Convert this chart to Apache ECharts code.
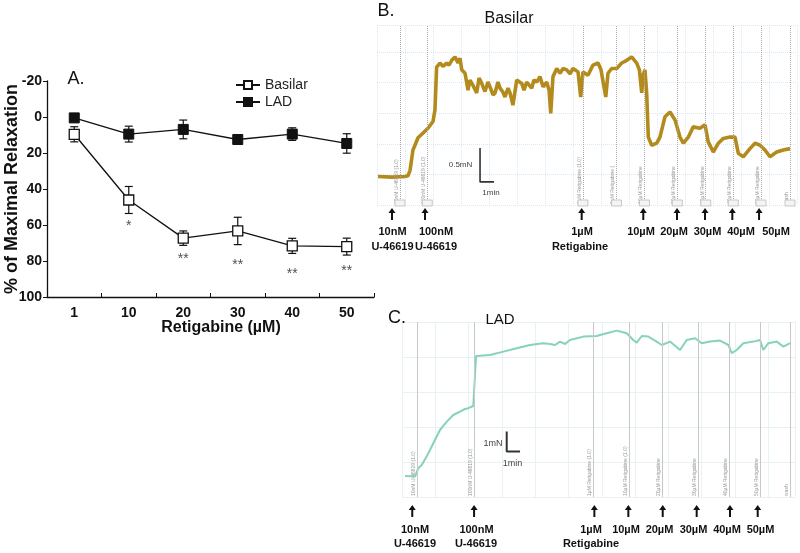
<!DOCTYPE html>
<html><head><meta charset="utf-8">
<script src="https://cdn.jsdelivr.net/npm/echarts@6/dist/echarts.min.js"></script>
<style>html,body{margin:0;padding:0;background:#fff}#c{width:800px;height:553px}</style>
</head><body><div id="c"></div>
<script>
// ---------- Panel A data ----------
const doses = ['1', '10', '20', '30', '40', '50'];
const basilarMean = [9.6, 46.1, 67.3, 63.3, 71.6, 72.0];
const basilarErr = [4.2, 7.5, 4.0, 7.6, 4.2, 4.7];
const ladMean = [0.5, 9.5, 6.9, 12.5, 9.5, 14.7];
const ladErr = [1.0, 4.4, 5.2, 2.7, 3.5, 5.4];
const starText = ['', '*', '**', '**', '**', '**'];
const starValue = [null, 59, 77.5, 80.8, 85.4, 83.9];

// ---------- Panel B data (time in min, force in mN) ----------
const basilarTrace = [
[0.07,0.42],[1.07,0.41],[2.0,0.42],[2.21,0.43],[2.36,0.51],[2.57,0.81],[2.93,0.99],[3.29,1.06],[3.64,1.13],[4.0,1.23],[4.14,1.40],[4.26,2.03],[4.5,2.09],[4.71,2.04],[4.98,2.09],[5.14,2.06],[5.34,2.13],[5.57,2.18],[5.79,2.09],[5.93,2.16],[6.05,1.99],[6.29,1.94],[6.5,1.69],[6.64,1.84],[6.86,1.76],[7.12,1.65],[7.29,1.87],[7.48,1.79],[7.71,1.67],[7.93,1.81],[8.07,1.74],[8.29,1.62],[8.43,1.65],[8.64,1.81],[8.79,1.72],[9.0,1.66],[9.14,1.59],[9.36,1.72],[9.5,1.65],[9.71,1.47],[9.98,1.84],[10.34,1.79],[10.5,1.69],[10.69,1.81],[11.05,1.72],[11.21,1.84],[11.41,1.81],[11.64,1.89],[11.86,1.74],[12.12,1.81],[12.29,1.69],[12.41,1.35],[12.57,1.89],[12.84,2.01],[13.07,1.94],[13.29,2.01],[13.55,1.99],[13.79,1.93],[14.0,2.01],[14.36,1.96],[14.55,1.59],[14.71,1.96],[15.07,1.91],[15.43,2.06],[15.79,2.09],[16.0,1.99],[16.14,2.01],[16.34,1.59],[16.5,1.94],[16.76,2.01],[17.12,2.01],[17.48,2.09],[17.84,2.13],[18.19,2.18],[18.55,2.09],[18.74,1.99],[18.91,1.65],[19.0,1.91],[19.14,1.99],[19.26,1.65],[19.38,1.0],[19.62,0.88],[19.98,0.91],[20.21,1.0],[20.57,1.30],[20.93,1.37],[21.29,1.25],[21.64,1.0],[21.88,0.91],[22.24,1.0],[22.59,1.15],[23.07,1.13],[23.43,1.18],[23.66,0.93],[24.02,0.78],[24.38,0.91],[24.74,0.98],[25.21,1.0],[25.57,1.0],[25.81,0.76],[26.16,0.71],[26.64,0.83],[27.0,0.91],[27.36,0.88],[27.71,0.81],[28.07,0.71],[28.55,0.78],[29.02,0.81],[29.5,0.83]
];
const basilarEvents = [1.64, 3.59, 14.71, 17.11, 19.11, 21.45, 23.48, 25.45, 27.43, 29.5];
const basilarEventText = ['10nM U-46619 (1.0)', '100nM U-46619 (1.0)', '1µM Retigabine (1.0)', '5µM Retigabine (', '10µM Retigabine', '20µM Retigabine', '30µM Retigabine', '40µM Retigabine', '50µM Retigabine', 'wash'];
const basilarArrows = [1.07, 3.43, 14.62, 19.02, 21.43, 23.43, 25.38, 27.29];
const basilarScale = [[7.36, 0.84], [7.36, 0.34], [8.36, 0.34]];

// ---------- Panel C data ----------
const ladTrace = [
[0.23,1.05],[0.98,1.02],[1.22,1.44],[1.48,1.6],[1.85,2.02],[2.35,2.69],[2.85,3.35],[3.36,3.77],[3.85,4.1],[4.35,4.27],[4.73,4.4],[4.98,4.44],[5.11,4.35],[5.35,4.55],[5.48,4.6],[5.56,7.05],[6.61,7.1],[7.61,7.27],[8.61,7.44],[9.61,7.6],[10.61,7.69],[11.11,7.65],[11.49,7.6],[11.86,7.77],[12.24,7.65],[12.61,7.85],[13.61,8.02],[14.62,8.05],[14.86,8.1],[15.37,8.19],[16.12,8.32],[16.87,8.19],[17.36,7.85],[17.62,7.72],[18.0,8.05],[18.49,8.02],[18.99,7.82],[19.5,7.6],[20.12,7.77],[20.87,7.35],[21.37,7.85],[22.0,7.94],[22.5,7.69],[23.12,7.77],[23.87,7.82],[24.5,7.6],[24.75,7.19],[25.13,7.35],[25.62,7.69],[26.37,7.77],[26.88,7.85],[27.12,7.35],[27.5,7.69],[28.13,7.77],[28.63,7.52],[29.13,7.69]
];
const ladEvents = [1.13, 5.44, 14.38, 17.04, 19.52, 22.22, 24.59, 26.91, 29.13];
const ladEventText = ['10nM U-46619 (1.0)', '100nM U-46619 (1.0)', '1µM Retigabine (1.0)', '10µM Retigabine (1.0)', '20µM Retigabine', '30µM Retigabine', '40µM Retigabine', '50µM Retigabine', 'wash'];
const ladArrows = [0.77, 5.41, 14.44, 16.99, 19.57, 22.12, 24.62, 26.7];
const ladScale = [[7.86, 3.27], [7.86, 2.27], [8.86, 2.27]];

// ---------- Labels ----------
const bLabels = [['10nM', 'U-46619'], ['100nM', 'U-46619'], ['1µM', 'Retigabine'], ['10µM'], ['20µM'], ['30µM'], ['40µM'], ['50µM']];
const cLabels = [['10nM', 'U-46619'], ['100nM', 'U-46619'], ['1µM', 'Retigabine'], ['10µM'], ['20µM'], ['30µM'], ['40µM'], ['50µM']];

const FONT = '"Liberation Sans", Arial, Helvetica, sans-serif';
const chart = echarts.init(document.getElementById('c'), null, {renderer: 'canvas'});

function errorSeries(mean, err) {
  return {
    type: 'custom', xAxisIndex: 0, yAxisIndex: 0, z: 1, silent: true,
    data: mean.map((m, i) => [i, m - err[i], m + err[i]]),
    renderItem: function (params, api) {
      const lo = api.coord([api.value(0), api.value(1)]);
      const hi = api.coord([api.value(0), api.value(2)]);
      const hw = 4;
      const st = {stroke: '#111', lineWidth: 1.2};
      return {type: 'group', children: [
        {type: 'line', shape: {x1: lo[0], y1: lo[1], x2: hi[0], y2: hi[1]}, style: st},
        {type: 'line', shape: {x1: lo[0] - hw, y1: lo[1], x2: lo[0] + hw, y2: lo[1]}, style: st},
        {type: 'line', shape: {x1: hi[0] - hw, y1: hi[1], x2: hi[0] + hw, y2: hi[1]}, style: st}
      ]};
    }
  };
}

function eventMarkLine(events, texts, lineStyle) {
  return {
    silent: true, symbol: 'none', animation: false,
    lineStyle: lineStyle,
    label: {show: true, position: 'insideStartTop', fontSize: 5, color: '#999', fontFamily: FONT, distance: 1},
    data: events.map((t, i) => ({xAxis: t, label: {formatter: texts[i]}}))
  };
}

const option = {
  animation: false,
  backgroundColor: '#fff',
  textStyle: {fontFamily: FONT},
  grid: [
    {left: 47, top: 81, width: 327, height: 216},
    {left: 377, top: 25, width: 420, height: 180},
    {left: 402, top: 322, width: 393, height: 175}
  ],
  legend: {
    data: ['Basilar', 'LAD'], orient: 'vertical', left: 230, top: 73,
    itemWidth: 24, itemHeight: 10, itemGap: 3,
    textStyle: {fontSize: 14, color: '#222', fontFamily: FONT}
  },
  xAxis: [
    {
      gridIndex: 0, type: 'category', data: doses, boundaryGap: true,
      axisLine: {onZero: false, lineStyle: {color: '#111', width: 1.3}},
      axisTick: {show: true, inside: true, length: 4, lineStyle: {color: '#111'}},
      axisLabel: {fontSize: 14, fontWeight: 'bold', color: '#111', margin: 9, fontFamily: FONT},
      splitLine: {show: false}
    },
    {
      gridIndex: 1, type: 'value', min: 0, max: 30, interval: 2,
      axisLine: {show: false}, axisTick: {show: false}, axisLabel: {show: false},
      splitLine: {show: true, lineStyle: {color: '#dce9f4', type: 'dotted', width: 1}}
    },
    {
      gridIndex: 2, type: 'value', min: 0, max: 29.5, interval: 2.5,
      axisLine: {show: false}, axisTick: {show: false}, axisLabel: {show: false},
      splitLine: {show: true, lineStyle: {color: '#e8f1f5', type: 'solid', width: 1}}
    }
  ],
  yAxis: [
    {
      gridIndex: 0, type: 'value', inverse: true, min: -20, max: 100, interval: 20,
      axisLine: {show: true, onZero: false, lineStyle: {color: '#111', width: 1.3}},
      axisTick: {show: true, length: 4, lineStyle: {color: '#111'}},
      axisLabel: {fontSize: 14, fontWeight: 'bold', color: '#111', margin: 5, fontFamily: FONT},
      splitLine: {show: false}
    },
    {
      gridIndex: 1, type: 'value', min: 0, max: 2.65, interval: 0.45,
      axisLine: {show: false}, axisTick: {show: false}, axisLabel: {show: false},
      splitLine: {show: true, lineStyle: {color: '#dce9f4', type: 'dotted', width: 1}}
    },
    {
      gridIndex: 2, type: 'value', min: 0, max: 8.75, interval: 1.75,
      axisLine: {show: false}, axisTick: {show: false}, axisLabel: {show: false},
      splitLine: {show: true, lineStyle: {color: '#e8f1f5', type: 'solid', width: 1}}
    }
  ],
  series: [
    errorSeries(basilarMean, basilarErr),
    errorSeries(ladMean, ladErr),
    {
      name: 'Basilar', type: 'line', xAxisIndex: 0, yAxisIndex: 0, z: 3,
      data: basilarMean, symbol: 'rect', symbolSize: 10,
      lineStyle: {color: '#111', width: 1.3},
      itemStyle: {color: '#fff', borderColor: '#111', borderWidth: 1.3}
    },
    {
      name: 'LAD', type: 'line', xAxisIndex: 0, yAxisIndex: 0, z: 3,
      data: ladMean, symbol: 'rect', symbolSize: 10,
      lineStyle: {color: '#111', width: 1.3},
      itemStyle: {color: '#111', borderColor: '#111', borderWidth: 1}
    },
    {
      type: 'scatter', xAxisIndex: 0, yAxisIndex: 0, symbolSize: 0, silent: true,
      data: starValue.map((v, i) => v == null ? null : {value: [i, v], label: {formatter: starText[i]}}).filter(d => d),
      label: {show: true, position: 'inside', fontSize: 14, color: '#222', fontFamily: FONT, offset: [0, 3]}
    },
    {
      type: 'line', xAxisIndex: 1, yAxisIndex: 1, data: basilarTrace, showSymbol: false, symbol: 'none',
      lineStyle: {color: '#b38b1d', width: 3.6}, z: 3,
      markLine: eventMarkLine(basilarEvents, basilarEventText, {color: '#a9a9a9', type: 'dotted', width: 1})
    },
    {
      type: 'line', xAxisIndex: 1, yAxisIndex: 1, data: basilarScale, showSymbol: false, symbol: 'none',
      lineStyle: {color: '#333', width: 1.6}, z: 4
    },
    {
      type: 'line', xAxisIndex: 2, yAxisIndex: 2, data: ladTrace, showSymbol: false, symbol: 'none',
      lineStyle: {color: '#86d2bb', width: 2}, z: 3,
      markLine: eventMarkLine(ladEvents, ladEventText, {color: '#c8c8c8', type: 'solid', width: 1})
    },
    {
      type: 'line', xAxisIndex: 2, yAxisIndex: 2, data: ladScale, showSymbol: false, symbol: 'none',
      lineStyle: {color: '#333', width: 2}, z: 4
    }
  ]
};
chart.setOption(option);

// ---------- annotations positioned through the axes ----------
const g = [];
function txt(x, y, s, font, color, align) {
  g.push({type: 'text', x: x, y: y, z: 10, style: {text: s, font: font, fill: color || '#111', align: align || 'center', verticalAlign: 'middle'}});
}
function arrow(x, yTop, yBot) {
  g.push({type: 'line', z: 10, shape: {x1: x, y1: yTop + 4, x2: x, y2: yBot}, style: {stroke: '#111', lineWidth: 2}});
  g.push({type: 'polygon', z: 10, shape: {points: [[x - 3.5, yTop + 5], [x + 3.5, yTop + 5], [x, yTop]]}, style: {fill: '#111'}});
}
basilarArrows.forEach(t => arrow(chart.convertToPixel({xAxisIndex: 1}, t), 208, 220));
ladArrows.forEach(t => arrow(chart.convertToPixel({xAxisIndex: 2}, t), 505, 517));
// event boxes (panel B)
basilarEvents.forEach(t => {
  const x = chart.convertToPixel({xAxisIndex: 1}, t);
  g.push({type: 'rect', z: 9, shape: {x: x - 5, y: 200, width: 10, height: 6}, style: {fill: '#f4f4f4', stroke: '#bbb', lineWidth: 0.8}});
});

const LBL = 'bold 11px ' + FONT;
const bX = [392.5, 436, 582, 641, 674, 707.5, 741, 776];
const bX2 = [392.5, 436, 580];
bLabels.forEach((l, i) => {
  txt(bX[i], 232, l[0], LBL);
  if (l[1]) txt(bX2[i], 247, l[1], LBL);
});
const cX = [415, 476.5, 591, 626, 659.5, 693.5, 727, 760.5];
const cX2 = [415, 476, 591];
cLabels.forEach((l, i) => {
  txt(cX[i], 530, l[0], LBL);
  if (l[1]) txt(cX2[i], 544, l[1], LBL);
});

// axis titles of panel A
g.push({type: 'text', x: 12, y: 189, rotation: Math.PI / 2, z: 10,
  style: {text: '% of Maximal Relaxation', font: 'bold 18px ' + FONT, fill: '#111', align: 'center', verticalAlign: 'middle'}});
txt(221, 328, 'Retigabine (µM)', 'bold 16px ' + FONT, '#111');

txt(76, 79, 'A.', '18px ' + FONT, '#111');
txt(386, 11, 'B.', '18px ' + FONT, '#111');
txt(509, 19, 'Basilar', '16px ' + FONT, '#111');
txt(397, 318, 'C.', '18px ' + FONT, '#111');
txt(500, 320, 'LAD', '15px ' + FONT, '#111');
txt(460.5, 165, '0.5mN', '8px ' + FONT, '#444');
txt(491, 193, '1min', '8px ' + FONT, '#444');
txt(493, 444, '1mN', '9px ' + FONT, '#444');
txt(512.5, 464, '1min', '9px ' + FONT, '#444');

chart.setOption({graphic: g});
</script></body></html>
